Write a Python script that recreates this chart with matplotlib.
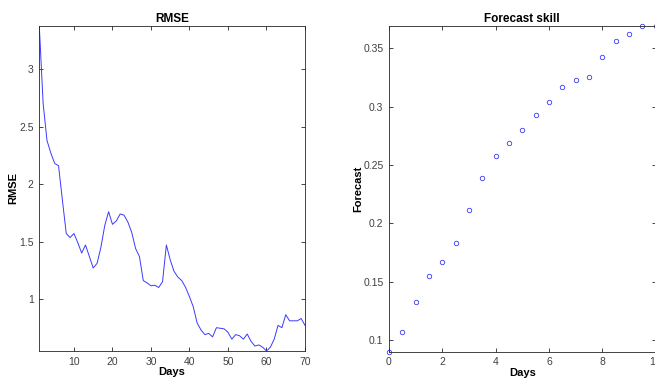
import numpy as np
import matplotlib
matplotlib.use("Agg")
import matplotlib.pyplot as plt

# RMSE per day (left panel)
days = np.arange(1, 71)
rmse = [3.377, 2.70, 2.38, 2.27, 2.18, 2.16, 1.86, 1.57, 1.535, 1.57,
        1.49, 1.40, 1.47, 1.37, 1.27, 1.31, 1.45, 1.64, 1.76, 1.65,
        1.68, 1.74, 1.73, 1.67, 1.58, 1.44, 1.37, 1.16, 1.14, 1.115,
        1.12, 1.10, 1.15, 1.47, 1.34, 1.24, 1.19, 1.16, 1.10, 1.02,
        0.93, 0.79, 0.73, 0.69, 0.70, 0.67, 0.75, 0.745, 0.74, 0.71,
        0.65, 0.69, 0.68, 0.65, 0.695, 0.63, 0.59, 0.60, 0.58, 0.547,
        0.58, 0.65, 0.77, 0.75, 0.863, 0.81, 0.81, 0.81, 0.83, 0.77]

# forecast skill (right panel)
skill_days = [0, 0.5, 1, 1.5, 2, 2.5, 3, 3.5, 4, 4.5, 5,
              5.5, 6, 6.5, 7, 7.5, 8, 8.5, 9, 9.5, 10]
skill = [0.090, 0.1071, 0.1325, 0.1545, 0.1671, 0.1829, 0.2114, 0.2389,
         0.258, 0.2688, 0.2797, 0.2926, 0.3037, 0.3168, 0.3228, 0.3254,
         0.3423, 0.3563, 0.3623, 0.369, 0.369]

plt.rcParams['font.family'] = ['Liberation Sans', 'DejaVu Sans']
plt.rcParams['font.size'] = 7.5

W, H = 655, 379
fig = plt.figure(figsize=(W / 100, H / 100), dpi=100)

def box(left, top, right, bottom):
    return [left / W, 1 - bottom / H, (right - left) / W, (bottom - top) / H]

def style(ax):
    for s in ax.spines.values():
        s.set_color('#262626')
        s.set_linewidth(0.6)
    ax.tick_params(direction='in', length=3, width=0.6, colors='#262626',
                   labelcolor='#404040', labelsize=7.5, top=True, right=True, pad=4)

ax1 = fig.add_axes(box(39.3, 26, 305, 351))
ax1.plot(days, rmse, color='#3a3aff', lw=0.7)
ax1.set_xlim(1, 70)
ax1.set_ylim(min(rmse), max(rmse))
ax1.set_xticks([10, 20, 30, 40, 50, 60, 70])
ax1.set_yticks([1, 1.5, 2, 2.5, 3])
ax1.set_yticklabels(['1', '1.5', '2', '2.5', '3'])
ax1.set_title('RMSE', fontsize=8.5, fontweight='bold', pad=3)
ax1.set_xlabel('Days', fontsize=8, fontweight='bold', labelpad=0.5)
ax1.set_ylabel('RMSE', fontsize=8, fontweight='bold')
ax1.yaxis.set_label_coords(-0.08, 0.5)
style(ax1)

ax2 = fig.add_axes(box(389, 26, 655.5, 351.7))
ax2.plot(skill_days, skill, 'o', mfc='none', mec='#3a3aff', ms=3.2, mew=0.6,
         clip_on=False)
ax2.set_xlim(0, 10)
ax2.set_ylim(min(skill), max(skill))
ax2.set_xticks([0, 2, 4, 6, 8, 10])
ax2.set_yticks([0.1, 0.15, 0.2, 0.25, 0.3, 0.35])
ax2.set_yticklabels(['0.1', '0.15', '0.2', '0.25', '0.3', '0.35'])
ax2.set_title('Forecast skill', fontsize=8.5, fontweight='bold', pad=3)
ax2.set_xlabel('Days', fontsize=8, fontweight='bold', labelpad=0.5)
ax2.set_ylabel('Forecast', fontsize=8, fontweight='bold')
ax2.yaxis.set_label_coords(-0.098, 0.5)
style(ax2)

fig.savefig('out.png', dpi=100)
